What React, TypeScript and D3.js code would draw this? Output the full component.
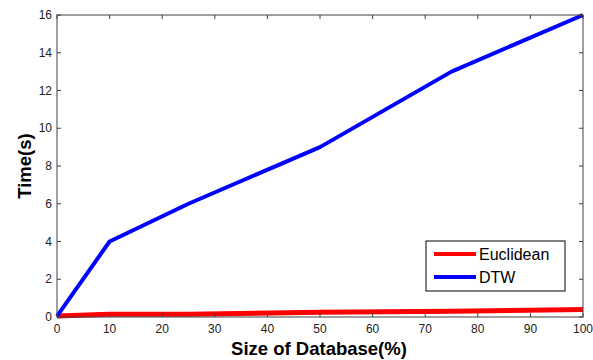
import React from "react";
import * as d3 from "d3";

const xTicks = [0, 10, 20, 30, 40, 50, 60, 70, 80, 90, 100];
const yTicks = [0, 2, 4, 6, 8, 10, 12, 14, 16];
const sizes = [0, 10, 25, 50, 75, 100];
const dtw = [0.05, 4, 6, 9, 13, 16];
const euclidean = [0.05, 0.15, 0.15, 0.25, 0.3, 0.4];
const seriesNames = ["Euclidean", "DTW"];
const seriesColors = ["#ff0000", "#0000ff"];

export default function App() {
  const W = 593, H = 360;
  const L = 57, R = 583, T = 15, B = 317;
  const x = d3.scaleLinear().domain([0, 100]).range([L, R]);
  const y = d3.scaleLinear().domain([0, 16]).range([B, T]);
  const line = d3.line<[number, number]>().x(d => x(d[0])).y(d => y(d[1]));
  const dtwPts = sizes.map((s, i) => [s, dtw[i]] as [number, number]);
  const euPts = sizes.map((s, i) => [s, euclidean[i]] as [number, number]);
  const axisColor = "#404040";
  const font = "Liberation Sans, Arial, sans-serif";
  return (
    <svg width={W} height={H} style={{ position: "absolute", left: 0, top: 0, background: "#fff" }}>
      <rect x={0} y={0} width={W} height={H} fill="#fff" />
      <path d={line(euPts) || ""} fill="none" stroke={seriesColors[0]} strokeWidth={5} />
      <path d={line(dtwPts) || ""} fill="none" stroke={seriesColors[1]} strokeWidth={4} strokeLinejoin="round" />
      <rect x={L} y={T} width={R - L} height={B - T} fill="none" stroke={axisColor} strokeWidth={1} />
      {xTicks.map(t => (
        <g key={"x" + t}>
          <line x1={x(t)} x2={x(t)} y1={B} y2={B - 4} stroke={axisColor} />
          <line x1={x(t)} x2={x(t)} y1={T} y2={T + 4} stroke={axisColor} />
          <text x={x(t)} y={B + 16} textAnchor="middle" fontFamily={font} fontSize={12} fill="#222">{t}</text>
        </g>
      ))}
      {yTicks.map(t => (
        <g key={"y" + t}>
          <line x1={L} x2={L + 4} y1={y(t)} y2={y(t)} stroke={axisColor} />
          <line x1={R} x2={R - 4} y1={y(t)} y2={y(t)} stroke={axisColor} />
          <text x={L - 5} y={y(t) + 4} textAnchor="end" fontFamily={font} fontSize={12} fill="#222">{t}</text>
        </g>
      ))}
      <text x={319} y={355} textAnchor="middle" fontFamily={font} fontSize={18.5} fontWeight="bold" fill="#000">Size of Database(%)</text>
      <text transform={`translate(31,166) rotate(-90)`} textAnchor="middle" fontFamily={font} fontSize={18.5} fontWeight="bold" fill="#000">Time(s)</text>
      <g>
        <rect x={426} y={241} width={139} height={50} fill="#fff" stroke="#000" strokeWidth={1} />
        {seriesNames.map((n, i) => (
          <g key={n}>
            <line x1={434} x2={476} y1={254 + i * 23} y2={254 + i * 23} stroke={seriesColors[i]} strokeWidth={4} />
            <text x={479} y={260 + i * 23} fontFamily={font} fontSize={16} fill="#000">{n}</text>
          </g>
        ))}
      </g>
    </svg>
  );
}
